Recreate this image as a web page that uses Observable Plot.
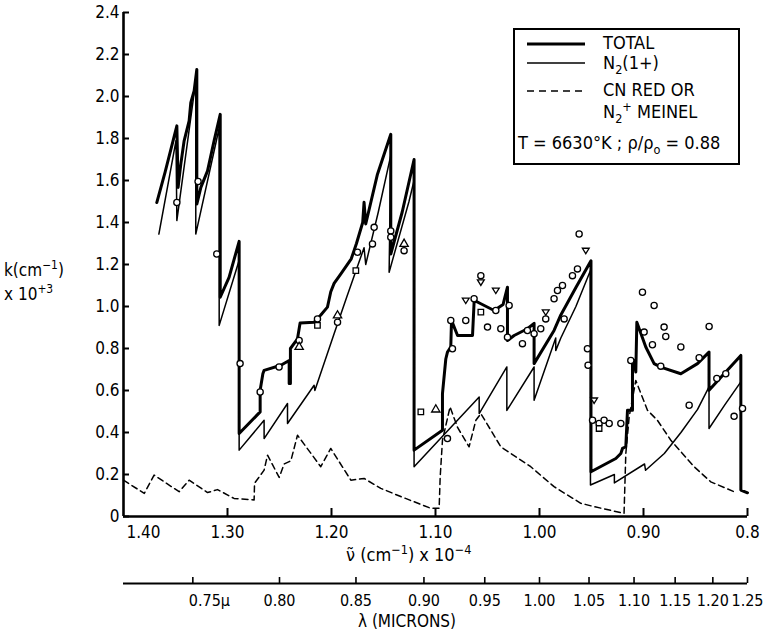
<!DOCTYPE html>
<html>
<head>
<meta charset="utf-8">
<script src="https://cdn.jsdelivr.net/npm/d3@7"></script>
<script src="https://cdn.jsdelivr.net/npm/@observablehq/plot@0.6"></script>
<style>
  html, body { margin: 0; padding: 0; background: #fff; }
  #wrap { position: relative; width: 783px; height: 640px; font-family: "DejaVu Sans Condensed", "Liberation Sans Narrow", "DejaVu Sans", sans-serif; color: #000; }
  .abs { position: absolute; white-space: nowrap; line-height: 1; }
  #legend { position: absolute; left: 513px; top: 28px; width: 223px; height: 133px; border: 2px solid #000; box-sizing: content-box; }
  .sample { position: absolute; left: 12px; width: 58px; height: 6px; overflow: visible; }
  .ltxt { position: absolute; left: 88px; font-size: 18px; line-height: 1; white-space: nowrap; }
  sub, sup { font-size: 70%; line-height: 0; }
</style>
</head>
<body>
<div id="wrap">
  <div id="chart"></div>
  <div id="legend">
    <svg class="sample" style="top:11px"><line x1="0" x2="58" y1="3" y2="3" stroke="#000" stroke-width="3"/></svg>
    <div class="ltxt" style="top:4px">TOTAL</div>
    <svg class="sample" style="top:30px"><line x1="0" x2="58" y1="3" y2="3" stroke="#000" stroke-width="1.6"/></svg>
    <div class="ltxt" style="top:24px">N<sub>2</sub>(1+)</div>
    <svg class="sample" style="top:58px"><line x1="0" x2="58" y1="3" y2="3" stroke="#000" stroke-width="1.6" stroke-dasharray="7,5"/></svg>
    <div class="ltxt" style="top:51px">CN RED OR</div>
    <div class="ltxt" style="top:73px">N<sub>2</sub><sup>+</sup> MEINEL</div>
    <div class="ltxt" style="left:3px;top:104px">T = 6630°K ; ρ/ρ<sub>o</sub> = 0.88</div>
  </div>
  <div class="abs" style="left:4px;top:262px;font-size:17px">k(cm<sup>−1</sup>)</div>
  <div class="abs" style="left:4px;top:286px;font-size:17px">x 10<sup>+3</sup></div>
  <div class="abs" style="left:346px;top:546px;font-size:18px">ν̃ (cm<sup>−1</sup>) x 10<sup>−4</sup></div>
  <div class="abs" style="left:358px;top:613px;font-size:17px">λ (MICRONS)</div>
</div>
<script>
// ---- axis ticks ----
const nuTicks = [1.30, 1.20, 1.10, 1.00, 0.90, 0.80];
const nuTickLabels = ["1.30", "1.20", "1.10", "1.00", "0.90", "0.8"];
const nuStartTick = [1.40];
const nuStartLabel = ["1.40"];
const kTicks = [0, 0.2, 0.4, 0.6, 0.8, 1.0, 1.2, 1.4, 1.6, 1.8, 2.0, 2.2, 2.4];
const kTickLabels = ["0", "0.2", "0.4", "0.6", "0.8", "1.0", "1.2", "1.4", "1.6", "1.8", "2.0", "2.2", "2.4"];
const lambdaTicks = [0.75, 0.80, 0.85, 0.90, 0.95, 1.00, 1.05, 1.10, 1.15, 1.20, 1.25];
const lambdaLabels = ["0.75μ", "0.80", "0.85", "0.90", "0.95", "1.00", "1.05", "1.10", "1.15", "1.20", "1.25"];

// ---- TOTAL (thick) ----
const totalNu = [1.368, 1.360, 1.3487, 1.3475, 1.3449, 1.3417, 1.3369, 1.3353, 1.3321, 1.3295, 1.3295, 1.3256, 1.3192, 1.3129, 1.307, 1.307, 1.2985, 1.2888, 1.2888,
  1.2686, 1.2686, 1.2660, 1.2648, 1.2487, 1.2407, 1.2407, 1.2395, 1.2395, 1.2327, 1.2302, 1.2167, 1.2103, 1.2039, 1.2007, 1.1975, 1.191, 1.181, 1.176, 1.170, 1.1687, 1.1671, 1.1558, 1.143,
  1.143, 1.132, 1.1206, 1.1206, 1.0933, 1.0933, 1.0901, 1.0885, 1.0853, 1.0846, 1.0788, 1.0644, 1.0628, 1.0564, 1.0436, 1.035, 1.0308, 1.0308, 1.0244, 1.0116, 1.0052, 1.0052, 0.986, 0.9795, 0.965, 0.9505,
  0.9505, 0.9266, 0.9218, 0.9202, 0.917, 0.9154, 0.9106, 0.9106, 0.909, 0.9074, 0.9064, 0.8978, 0.8898, 0.8834, 0.8641, 0.8481, 0.837, 0.837, 0.8064, 0.8064, 0.800];
const totalK = [1.495, 1.64, 1.86, 1.567, 1.678, 1.789, 1.884, 1.971, 2.026, 2.129, 1.488, 1.567, 1.646, 1.789, 1.915, 1.044, 1.139, 1.31, 0.395,
  0.498, 0.601, 0.68, 0.696, 0.72, 0.743, 0.633, 0.633, 0.80, 0.846, 0.921, 0.925, 0.96, 0.997, 1.07, 1.11, 1.155, 1.227, 1.30, 1.40, 1.496, 1.393, 1.63, 1.82,
  1.25, 1.45, 1.70, 0.316, 0.411, 0.585, 0.75, 0.783, 0.807, 0.934, 0.862, 0.862, 1.029, 1.013, 0.981, 1.01, 1.092, 0.838, 0.862, 0.894, 0.92, 0.728, 0.886, 0.96, 1.09, 1.218,
  0.213, 0.276, 0.30, 0.324, 0.332, 0.506, 0.506, 0.728, 0.743, 0.688, 0.925, 0.807, 0.728, 0.711, 0.68, 0.728, 0.783, 0.601, 0.767, 0.126, 0.113];

// ---- N2(1+) (thin) ----
const n2Nu = [1.366, 1.3495, 1.3487, 1.3305, 1.3305, 1.308, 1.308, 1.2888, 1.2888, 1.2648, 1.2648, 1.2423, 1.2423, 1.2167, 1.2160, 1.1975, 1.185, 1.1687, 1.1671, 1.155, 1.143,
  1.1446, 1.1255, 1.1206, 1.1206, 1.058, 1.058, 1.0314, 1.0314, 1.0052, 1.0052, 0.9844, 0.9844, 0.9795, 0.965, 0.951,
  0.951, 0.928, 0.928, 0.899, 0.898, 0.88, 0.864, 0.848, 0.837, 0.837, 0.822, 0.8064, 0.8064, 0.800];
const n2K = [1.345, 1.79, 1.409, 2.074, 1.345, 1.85, 0.91, 1.22, 0.316, 0.458, 0.371, 0.538, 0.443, 0.625, 0.60, 0.87, 1.05, 1.28, 1.20, 1.45, 1.72,
  1.163, 1.50, 1.60, 0.237, 0.569, 0.49, 0.712, 0.505, 0.712, 0.553, 0.85, 0.79, 0.85, 1.0, 1.171,
  0.15, 0.20, 0.16, 0.25, 0.22, 0.30, 0.40, 0.51, 0.617, 0.419, 0.53, 0.641, 0.126, 0.113];

// ---- CN red or N2+ Meinel (dashed) ----
const cnNu = [1.40, 1.380, 1.3706, 1.3465, 1.3369, 1.3192, 1.3096, 1.2937, 1.2744, 1.2740, 1.2648, 1.2615, 1.2503, 1.2455, 1.2391, 1.2327, 1.2103, 1.2007, 1.1814, 1.1686, 1.1526, 1.1334,
  1.1045, 1.0965, 1.0955, 1.0933, 1.086, 1.0788, 1.0677, 1.0612, 1.0564, 1.0372, 1.0084, 0.986, 0.9603, 0.9475, 0.9187, 0.917, 0.9138, 0.9074, 0.8962, 0.8866, 0.8737, 0.8513, 0.8353, 0.8129];
const cnK = [0.173, 0.11, 0.197, 0.118, 0.173, 0.114, 0.128, 0.086, 0.079, 0.158, 0.221, 0.292, 0.186, 0.25, 0.265, 0.387, 0.237, 0.324, 0.173, 0.181, 0.134, 0.095,
  0.039, 0.039, 0.189, 0.363, 0.522, 0.424, 0.332, 0.458, 0.49, 0.332, 0.237, 0.142, 0.063, 0.047, 0.015, 0.30, 0.474, 0.648, 0.506, 0.458, 0.363, 0.237, 0.165, 0.118];

// ---- measured points (o = circle, s = square, t = triangle, v = inverted triangle) ----
const ptNu = [1.3487, 1.3283, 1.3103, 1.2879, 1.2686, 1.2504, 1.2311, 1.2311, 1.2135, 1.2135, 1.1942, 1.1942, 1.175, 1.1766, 1.159, 1.1606, 1.143, 1.143, 1.1302, 1.1302,
  1.1141, 1.0997, 1.0885, 1.0853, 1.0837, 1.0709, 1.0709, 1.0629, 1.0564, 1.0564, 1.0564, 1.05, 1.042, 1.042, 1.0372, 1.0292, 1.0308, 1.0164, 1.0116, 1.0052,
  0.9988, 0.994, 0.994, 0.986, 0.9827, 0.9763, 0.9779, 0.9683, 0.9635, 0.9619, 0.9555, 0.9539, 0.9533, 0.9475, 0.949, 0.9427, 0.9427, 0.9379, 0.933, 0.9218,
  0.9122, 0.901, 0.8898, 0.8994, 0.8914, 0.8802, 0.8786, 0.8641, 0.8834, 0.8465, 0.8369, 0.8561, 0.8295, 0.8209, 0.8129, 0.8048];
const ptK = [1.495, 1.595, 1.25, 0.728, 0.593, 0.712, 0.838, 0.807, 0.941, 0.91, 0.957, 0.925, 1.258, 1.171, 1.377, 1.298, 1.36, 1.33, 1.298, 1.266,
  0.498, 0.509, 0.371, 0.933, 0.799, 0.933, 1.029, 1.037, 1.147, 1.115, 0.973, 0.902, 1.076, 0.981, 0.894, 1.005, 0.854, 0.823, 0.886, 0.87,
  0.894, 0.973, 0.941, 1.037, 1.076, 0.941, 1.10, 1.147, 1.179, 1.345, 1.266, 0.799, 0.72, 0.553, 0.458, 0.443, 0.419, 0.458, 0.443, 0.443,
  0.743, 1.068, 1.005, 0.878, 0.818, 0.902, 0.857, 0.807, 0.716, 0.756, 0.905, 0.53, 0.657, 0.68, 0.477, 0.514];
const ptShape = ["o", "o", "o", "o", "o", "o", "o", "t", "o", "s", "t", "o", "o", "s", "o", "o", "o", "o", "t", "o",
  "s", "t", "o", "o", "o", "o", "v", "o", "o", "v", "s", "o", "v", "o", "o", "o", "o", "o", "o", "o",
  "o", "v", "o", "o", "o", "o", "o", "o", "o", "o", "v", "o", "o", "v", "o", "o", "s", "o", "o", "o",
  "o", "o", "o", "o", "o", "o", "o", "o", "o", "o", "o", "o", "o", "o", "o", "o"];

// ---- build tables ----
const toRows = (xs, ys) => xs.map((x, i) => ({x, y: ys[i]}));
const total = toRows(totalNu, totalK);
const n2 = toRows(n2Nu, n2K);
const cn = toRows(cnNu, cnK);
const pts = ptNu.map((x, i) => ({x, y: ptK[i], s: ptShape[i]}));

const triDown = {
  draw(ctx, size) {
    const r = Math.sqrt(size) * 0.62;
    ctx.moveTo(-r, -r * 0.7);
    ctx.lineTo(r, -r * 0.7);
    ctx.lineTo(0, r * 0.9);
    ctx.closePath();
  }
};

const near = (a, b) => Math.abs(a - b) < 1e-9;
const fmtNu = d => nuTickLabels[nuTicks.findIndex(t => near(t, d))];
const fmtStart = d => nuStartLabel[nuStartTick.findIndex(t => near(t, d))];
const fmtK = d => kTickLabels[kTicks.findIndex(t => near(t, d))];
// the first wavelength label starts at its tick; the others are centred
const fmtLambda = d => { const i = lambdaTicks.findIndex(l => near(1 / l, d)); return i === 0 ? "" : lambdaLabels[i]; };
const firstLambda = [1 / lambdaTicks[0]];
const fmtFirstLambda = () => lambdaLabels[0];

const dotOpts = {x: "x", y: "y", r: 3.1, fill: "white", stroke: "black", strokeWidth: 1.3};

const chart = Plot.plot({
  width: 783,
  height: 640,
  marginLeft: 123,
  marginRight: 36,
  marginTop: 12,
  marginBottom: 124,
  style: {fontFamily: "'DejaVu Sans Condensed', 'Liberation Sans Narrow', 'DejaVu Sans', sans-serif", fontSize: "16px", color: "black", background: "white", overflow: "visible"},
  x: {domain: [1.40, 0.80]},
  y: {domain: [0, 2.4]},
  marks: [
    Plot.ruleY([0], {stroke: "black", strokeWidth: 2.6}),
    Plot.ruleX([1.40], {stroke: "black", strokeWidth: 2.6}),
    Plot.ruleY([0], {stroke: "black", strokeWidth: 2, dy: 67}),
    Plot.axisX({ticks: nuTicks, tickFormat: fmtNu, tickSize: -8, tickPadding: 17, strokeWidth: 2, label: null, fontSize: 17}),
    Plot.text(nuStartTick, {x: d => d, frameAnchor: "bottom", dy: 9, dx: 3, lineAnchor: "top", textAnchor: "start", text: fmtStart, fontSize: 17}),
    Plot.axisX({ticks: lambdaTicks.map(l => 1 / l), tickFormat: fmtLambda, tickSize: -6, tickPadding: 17, dy: 67, strokeWidth: 1.6, label: null, fontSize: 16}),
    Plot.text(firstLambda, {x: d => d, frameAnchor: "bottom", dy: 78, dx: -4, lineAnchor: "top", textAnchor: "start", text: fmtFirstLambda, fontSize: 16}),
    Plot.axisY({ticks: kTicks, tickFormat: fmtK, tickSize: -6, tickPadding: 10, strokeWidth: 2, label: null, fontSize: 17}),
    Plot.line(cn, {x: "x", y: "y", stroke: "black", strokeWidth: 1.5, strokeDasharray: "6,4"}),
    Plot.line(n2, {x: "x", y: "y", stroke: "black", strokeWidth: 1.5}),
    Plot.line(total, {x: "x", y: "y", stroke: "black", strokeWidth: 3, strokeLinejoin: "round"}),
    Plot.dot(pts.filter(d => d.s === "o"), {...dotOpts, symbol: "circle"}),
    Plot.dot(pts.filter(d => d.s === "s"), {...dotOpts, symbol: "square"}),
    Plot.dot(pts.filter(d => d.s === "t"), {...dotOpts, symbol: "triangle"}),
    Plot.dot(pts.filter(d => d.s === "v"), {...dotOpts, symbol: triDown})
  ]
});
document.getElementById("chart").appendChild(chart);
</script>
</body>
</html>
